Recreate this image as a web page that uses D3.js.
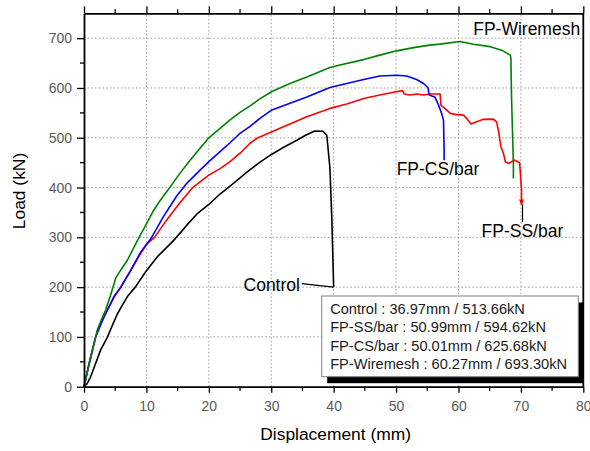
<!DOCTYPE html>
<html>
<head>
<meta charset="utf-8">
<script src="https://cdn.jsdelivr.net/npm/d3@7"></script>
<style>
  html, body { margin: 0; padding: 0; background: #fff; }
  svg { display: block; font-family: "Liberation Sans", Arial, Helvetica, sans-serif; }
</style>
</head>
<body>
<svg id="chart" width="590" height="451"></svg>
<script>
// ---------------- DATA ----------------
const xTickValues = [0, 10, 20, 30, 40, 50, 60, 70, 80];
const yTickValues = [0, 100, 200, 300, 400, 500, 600, 700];
const xTitle = "Displacement (mm)";
const yTitle = "Load (kN)";

// [displacement (mm), load (kN)]
const controlData = [
  [0,0],[0.5,6],[1.07,20],[1.87,47],[2.67,74],[3.74,99],[4.5,122],[5.34,146],[6.2,165],[6.95,181],[8.28,201],
  [9.88,231],[11.75,261],[13.9,288],[14.6,297],[15.5,310],[16.5,325],[18.1,347],[20.0,366],
  [21.8,387],[23.9,408],[26.3,433],[28.2,451],[30.1,467],[32.0,481],[34.1,495],[35.5,505],
  [36.97,513.66],[38.3,513],[38.9,505],[39.4,440],[39.7,340],[40.0,200]
];
const fpSSData = [
  [0,0],[0.8,45],[1.87,100],[2.5,122],[3.2,140],[4.8,181],[5.87,200],[7.48,234],[9.08,268],
  [10.1,287],[11.3,300],[13.25,335],[15.4,370],[17.5,401],[20.0,425],[21.8,438],[23.4,452],
  [25.0,469],[26.6,489],[27.7,499],[30.1,512],[35.7,542],[39.4,559],[42.1,568],[44.8,579],
  [47.4,586],[49.8,592],[50.99,594.62],[51.1,593.7],[51.3,588],[52.2,586],[53.3,588],[54.4,586],
  [55.4,588],[57.05,588],[57.2,565],[57.8,559],[58.7,549],[59.5,547],[60.8,545.5],[61.3,539],
  [62.0,527.5],[62.9,532],[64.0,537],[65.6,537.5],[66.1,532],[66.4,515],[66.8,482],[67.2,469],
  [67.5,452],[68.1,448.5],[68.5,452],[69.0,455],[69.8,450],[70.1,395],[70.1,366]
];
const fpCSData = [
  [0,0],[0.8,45],[1.87,100],[3.2,140],[4.8,180],[5.87,199],[7.48,233],[9.08,270],[10.7,297],
  [12.7,341],[14.85,383],[16.5,409],[18.6,435],[20.0,452],[21.8,472],[23.4,490],[25.0,509],
  [26.6,523],[28.3,540],[30.1,556],[35.7,582],[39.4,601],[42.1,609],[44.8,617],[47.4,624],[50.01,625.68],
  [51.7,624],[53.3,617],[54.4,609],[55.1,601],[55.3,586],[56.2,582],[56.8,566],[57.3,549],
  [57.6,535],[57.7,475],[57.7,455]
];
const fpWireData = [
  [0,0],[0.9,50],[2.13,114],[2.8,135],[3.47,154],[4.27,184],[5.07,218],[5.87,234],[6.95,254],
  [8.0,280],[8.7,297],[9.35,312],[10.05,328],[11.1,353],[12.2,374],[13.8,401],[15.4,429],[17.0,455],
  [18.6,479],[20.0,500],[21.8,519],[23.4,536],[25.0,551],[26.6,564],[28.3,579],[30.1,593],[33.0,609],[35.7,622],
  [39.4,641],[41.0,646],[44.8,657],[47.4,666],[50.1,674.6],[52.8,681],[55.4,686],[57.0,688],
  [60.27,693.3],[62.4,688],[65.1,683],[66.9,676],[68.3,666],[68.4,659],[68.5,582],[68.8,448],[68.8,418]
];

const seriesNames = ["Control", "FP-SS/bar", "FP-CS/bar", "FP-Wiremesh"];
const seriesColors = ["#000000", "#ff0000", "#0000ff", "#008000"];
const legendLines = [
  "Control : 36.97mm / 513.66kN",
  "FP-SS/bar : 50.99mm / 594.62kN",
  "FP-CS/bar : 50.01mm / 625.68kN",
  "FP-Wiremesh : 60.27mm / 693.30kN"
];

// ---------------- CHART ----------------
const svg = d3.select("#chart");
const L = 84, R = 583.3, T = 13.3, B = 386.7;
const x = d3.scaleLinear().domain([0, 80]).range([L, R]);
const y = d3.scaleLinear().domain([0, 750]).range([B, T]);

// grid
const grid = svg.append("g");
grid.selectAll("line.gx").data(xTickValues.filter(v => v > 0 && v < 80)).join("line")
  .attr("x1", d => x(d)).attr("x2", d => x(d)).attr("y1", B).attr("y2", T)
  .attr("stroke", "#9a9a9a").attr("stroke-width", 1).attr("stroke-dasharray", "1.5,2.2");
grid.selectAll("line.gy").data(yTickValues.filter(v => v > 0)).join("line")
  .attr("x1", L).attr("x2", R).attr("y1", d => y(d)).attr("y2", d => y(d))
  .attr("stroke", "#9a9a9a").attr("stroke-width", 1).attr("stroke-dasharray", "1.5,2.2");

// curves
const line = d3.line().x(d => x(d[0])).y(d => y(d[1]));
const allSeries = [controlData, fpSSData, fpCSData, fpWireData];
svg.append("g").selectAll("path").data(allSeries).join("path")
  .attr("d", d => line(d))
  .attr("fill", "none")
  .attr("stroke", (d, i) => seriesColors[i])
  .attr("stroke-width", 1.6)
  .attr("stroke-linejoin", "round");

// axes
const minorX = d3.range(5, 80, 10);
const minorY = d3.range(50, 750, 100);
const xAxisB = d3.axisBottom(x).tickValues(xTickValues).tickSize(6).tickSizeOuter(0).tickPadding(5);
const gB = svg.append("g").attr("transform", `translate(0,${B})`).call(xAxisB);
const yAxisL = d3.axisLeft(y).tickValues(yTickValues).tickSize(7).tickSizeOuter(0).tickPadding(5);
const gL = svg.append("g").attr("transform", `translate(${L},0)`).call(yAxisL);
const xAxisT = d3.axisTop(x).tickValues(xTickValues).tickSize(7).tickSizeOuter(0).tickFormat("");
const gT = svg.append("g").attr("transform", `translate(0,${T})`).call(xAxisT);

// minor ticks
gB.selectAll("line.minor").data(minorX).join("line").attr("class", "minor")
  .attr("x1", d => x(d)).attr("x2", d => x(d)).attr("y1", 0).attr("y2", 4).attr("stroke", "#000").attr("stroke-width", 1.3);
gT.selectAll("line.minor").data(minorX).join("line").attr("class", "minor")
  .attr("x1", d => x(d)).attr("x2", d => x(d)).attr("y1", 0).attr("y2", -4).attr("stroke", "#000").attr("stroke-width", 1.3);
gL.selectAll("line.minor").data(minorY).join("line").attr("class", "minor")
  .attr("y1", d => y(d)).attr("y2", d => y(d)).attr("x1", 0).attr("x2", -4).attr("stroke", "#000").attr("stroke-width", 1.3);

[gB, gL, gT].forEach(g => {
  g.select(".domain").attr("stroke", "#000").attr("stroke-width", 1.8);
  g.selectAll(".tick line").attr("stroke", "#000").attr("stroke-width", 1.3);
  g.selectAll(".tick text").attr("fill", "#5a5a5a").attr("font-size", 14)
    .attr("font-family", "'Liberation Sans', Arial, sans-serif");
});
gB.selectAll(".tick text").attr("dy", "0.95em");

// right axis line
svg.append("line").attr("x1", R).attr("x2", R).attr("y1", T).attr("y2", B)
  .attr("stroke", "#000").attr("stroke-width", 1.8);

// axis titles
svg.append("text").attr("x", (L + R) / 2 + 2).attr("y", 440).attr("text-anchor", "middle")
  .attr("font-size", 17.4).attr("fill", "#000").text(xTitle);
svg.append("text").attr("transform", `translate(25,191) rotate(-90)`).attr("text-anchor", "middle")
  .attr("font-size", 17.4).attr("fill", "#000").text(yTitle);

// series labels (data-space anchors)
const labelAnchors = [
  {name: seriesNames[0], x: 34.6, y: 192.5, anchor: "end"},
  {name: seriesNames[1], x: 63.7, y: 301, anchor: "start"},
  {name: seriesNames[2], x: 50.1, y: 425, anchor: "start"},
  {name: seriesNames[3], x: 79.5, y: 706, anchor: "end"}
];
svg.append("g").selectAll("text").data(labelAnchors).join("text")
  .attr("x", d => x(d.x)).attr("y", d => y(d.y)).attr("text-anchor", d => d.anchor)
  .attr("font-size", 17.5).attr("fill", "#000").text(d => d.name);

// leader lines
const ctrlEnd = controlData[controlData.length - 1];
svg.append("line").attr("x1", x(34.9)).attr("y1", y(207)).attr("x2", x(ctrlEnd[0])).attr("y2", y(ctrlEnd[1]))
  .attr("stroke", "#000").attr("stroke-width", 1.3);
const ssEnd = fpSSData[fpSSData.length - 1];
svg.append("line").attr("x1", x(ssEnd[0]) + 1).attr("y1", y(ssEnd[1])).attr("x2", x(ssEnd[0]) + 1).attr("y2", y(331))
  .attr("stroke", "#000").attr("stroke-width", 1.2);
svg.append("path")
  .attr("d", `M${x(ssEnd[0]) - 2.5},${y(ssEnd[1]) - 5} L${x(ssEnd[0]) + 2.5},${y(ssEnd[1]) - 5} L${x(ssEnd[0])},${y(ssEnd[1]) + 1} Z`)
  .attr("fill", "#ff0000");

// legend box
const box = {x: 321.7, y: 296, w: 256.6, h: 80.7};
svg.append("rect").attr("x", box.x + 5.5).attr("y", box.y + 6.5).attr("width", box.w).attr("height", box.h).attr("fill", "#000");
svg.append("rect").attr("x", box.x).attr("y", box.y).attr("width", box.w).attr("height", box.h)
  .attr("fill", "#fff").attr("stroke", "#808080").attr("stroke-width", 1);
svg.append("g").selectAll("text").data(legendLines).join("text")
  .attr("x", box.x + 8.5).attr("y", (d, i) => box.y + 18 + i * 18.3)
  .attr("font-size", 14.6).attr("fill", "#1a1a1a").text(d => d);
</script>
</body>
</html>
